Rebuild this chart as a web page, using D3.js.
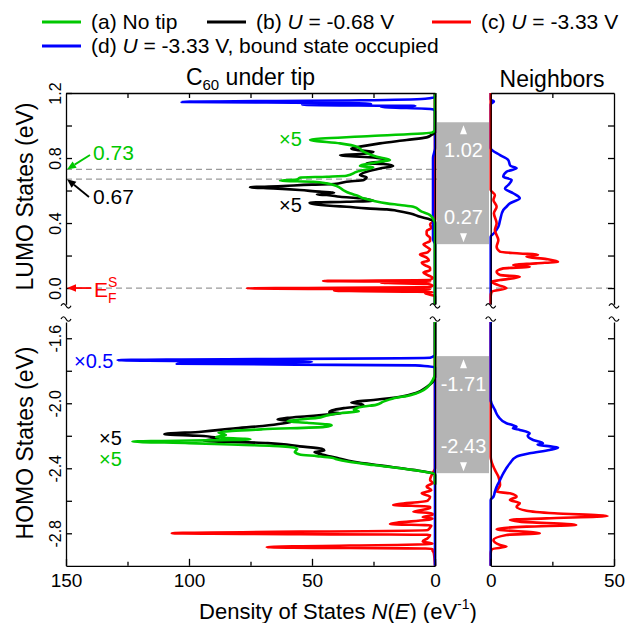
<!DOCTYPE html>
<html>
<head>
<meta charset="utf-8">
<script src="https://cdn.jsdelivr.net/npm/d3@7"></script>
<style>
body { margin: 0; background: #fff; }
svg { display: block; font-family: "Liberation Sans", Arial, sans-serif; }
</style>
</head>
<body>
<svg width="627" height="623"></svg>
<script>
// ---- data: [energy (eV), DOS (1/eV)] ----
// LUMO, C60 under tip
const lumoNoTip = [[-0.1,0],[0.40,0],[0.418,0.5],[0.449,2],[0.47,5.4],[0.50,8.8],[0.511,14.2],[0.521,19.6],[0.537,25.1],[0.552,29.1],[0.565,31],[0.583,34.6],[0.603,37.3],[0.628,40],[0.644,44],[0.654,49.5],[0.661,63],[0.668,56],[0.679,54.9],[0.685,44],[0.691,36],[0.716,31.8],[0.743,25.1],[0.751,30.5],[0.777,22.4],[0.788,18.3],[0.808,23.7],[0.839,29.1],[0.87,31.8],[0.89,38.6],[0.912,50.8],[0.935,26],[0.958,1],[0.975,0],[1.2,0]];
const lumoU068 = [[-0.1,0],[0.408,0],[0.422,2],[0.438,6],[0.459,10],[0.476,15.6],[0.484,19.6],[0.49,27.8],[0.50,35.9],[0.505,41.3],[0.517,49.5],[0.525,51],[0.531,36],[0.537,25],[0.552,30.5],[0.562,38.6],[0.572,44],[0.576,48],[0.587,41],[0.593,47],[0.603,55],[0.613,65.7],[0.62,75.2],[0.628,61.7],[0.636,50],[0.64,41],[0.654,36],[0.665,29],[0.681,27.8],[0.695,30.5],[0.716,27.8],[0.736,22.4],[0.751,17],[0.763,21],[0.767,27.8],[0.777,22.4],[0.788,19.6],[0.804,25],[0.812,36],[0.818,38.6],[0.824,30.5],[0.839,25],[0.849,31.8],[0.859,34],[0.87,30.5],[0.89,22.4],[0.911,11.5],[0.927,3.4],[0.942,1.4],[0.955,0],[1.2,0]];
const lumoU333 = [[-0.1,0],[-0.05,0],[-0.032,4],[-0.025,1],[-0.016,41],[-0.008,2],[-0.002,76.5],[0.006,2],[0.015,1],[0.025,3],[0.033,22],[0.038,2],[0.043,45.5],[0.05,2],[0.064,1],[0.08,3],[0.095,4.7],[0.11,2],[0.125,2],[0.14,4],[0.156,5.4],[0.17,2.5],[0.187,3.4],[0.207,6.1],[0.22,3],[0.238,2],[0.25,3],[0.269,4.7],[0.29,2],[0.31,2],[0.33,3.4],[0.351,3.4],[0.37,1.5],[0.392,2],[0.42,0],[1.2,0]];
const lumoBound = [[-0.1,0],[0.27,0],[0.30,0.8],[0.80,0.8],[0.86,0],[1.09,0],[1.10,1],[1.115,22],[1.12,8],[1.127,54],[1.133,26],[1.138,35],[1.145,103],[1.155,30],[1.165,4],[1.175,0],[1.2,0]];
// LUMO, neighbors
const lumoNbU333 = [[-0.1,0],[-0.05,0],[-0.022,0.4],[-0.002,6.4],[0.018,3.1],[0.039,0.4],[0.049,3.8],[0.07,11.8],[0.08,3.8],[0.1,2.4],[0.121,5.1],[0.131,15.8],[0.142,9.1],[0.152,18.5],[0.162,27.3],[0.178,22.6],[0.193,14.5],[0.205,19.2],[0.213,11.8],[0.223,3.8],[0.254,2.4],[0.295,3.1],[0.357,1.7],[0.398,2.4],[0.46,1.3],[0.50,2.4],[0.542,1.1],[0.572,1.7],[0.603,0],[1.2,0]];
const lumoNbBound = [[-0.1,0],[0.316,0],[0.337,1.3],[0.377,3.1],[0.418,3.8],[0.48,5.1],[0.50,6.4],[0.521,7.8],[0.552,11.8],[0.583,9.1],[0.613,5.8],[0.634,7.1],[0.665,8.5],[0.685,5.1],[0.716,6.4],[0.737,10.5],[0.752,8],[0.788,7.1],[0.818,3.8],[0.86,0],[1.13,0],[1.147,1.3],[1.16,0],[1.2,0]];
// HOMO, C60 under tip
const homoNoTip = [[-1.5,0],[-1.82,0],[-1.86,1],[-1.90,3],[-1.93,6],[-1.95,10],[-1.97,17],[-1.99,21],[-2.01,24],[-2.02,29],[-2.04,33],[-2.05,31],[-2.06,38],[-2.075,44],[-2.09,48],[-2.10,55],[-2.11,60],[-2.12,52],[-2.135,42],[-2.145,45],[-2.16,70],[-2.18,88],[-2.195,85],[-2.209,89],[-2.222,75],[-2.236,123],[-2.245,100],[-2.255,80],[-2.265,62],[-2.28,56],[-2.30,57],[-2.315,55],[-2.325,48],[-2.335,42],[-2.345,40],[-2.36,35],[-2.38,25],[-2.40,14],[-2.42,5],[-2.435,0],[-2.5,0]];
const homoU068 = [[-1.5,0],[-1.84,0],[-1.87,1],[-1.90,3.4],[-1.935,7.5],[-1.96,14],[-1.98,25],[-1.99,32],[-1.996,34],[-2.005,30],[-2.015,29],[-2.03,37],[-2.045,42],[-2.055,43],[-2.062,38],[-2.07,44],[-2.08,52],[-2.09,60],[-2.10,64],[-2.11,58],[-2.125,62],[-2.14,70],[-2.155,82],[-2.175,95],[-2.19,110],[-2.20,96],[-2.215,88],[-2.23,94],[-2.245,68],[-2.265,55],[-2.28,46],[-2.29,45],[-2.30,49],[-2.315,46],[-2.335,40],[-2.36,33],[-2.385,21],[-2.41,9],[-2.43,1],[-2.44,0],[-2.5,0]];
const homoU333 = [[-1.5,0],[-2.40,0],[-2.43,1],[-2.472,2],[-2.49,1],[-2.513,3.4],[-2.535,1.5],[-2.554,5.4],[-2.575,2],[-2.60,3],[-2.626,17],[-2.636,2],[-2.646,2],[-2.667,8.8],[-2.677,1],[-2.687,1],[-2.70,5],[-2.71,1],[-2.743,18.3],[-2.752,1.5],[-2.765,2],[-2.78,3],[-2.80,107],[-2.81,2],[-2.83,3],[-2.85,5],[-2.865,1],[-2.886,68.4],[-2.895,1],[-2.906,1],[-2.92,0.5],[-3.0,0]];
const homoBound = [[-1.5,0],[-1.70,0],[-1.72,2],[-1.735,129],[-1.745,50],[-1.757,105],[-1.767,8],[-1.78,0],[-3.0,0]];
// HOMO, neighbors
const homoNbU333 = [[-1.5,0],[-2.33,0],[-2.41,1.7],[-2.451,3.1],[-2.503,3.8],[-2.544,2.4],[-2.554,7.8],[-2.575,10.5],[-2.595,7.8],[-2.615,11.8],[-2.636,10.5],[-2.661,14.5],[-2.677,25.8],[-2.694,47.4],[-2.708,22.6],[-2.718,7.8],[-2.728,11.8],[-2.749,34.7],[-2.759,14.5],[-2.775,2.4],[-2.80,19.9],[-2.81,6.4],[-2.841,1.1],[-2.872,3.8],[-2.882,6.4],[-2.898,0.4],[-2.923,0],[-3.0,0]];
const homoNbBound = [[-1.5,0],[-1.98,0],[-2.041,1.7],[-2.082,3.1],[-2.123,6.4],[-2.135,9],[-2.144,10.5],[-2.154,9],[-2.164,11.8],[-2.185,15.8],[-2.2,15],[-2.226,17.2],[-2.246,21.2],[-2.255,19],[-2.267,25.2],[-2.273,27.3],[-2.287,23.9],[-2.308,15.8],[-2.328,10.5],[-2.369,7.8],[-2.431,5.1],[-2.472,3.8],[-2.513,2.4],[-2.544,1.7],[-2.575,1.1],[-2.595,0],[-3.0,0]];

// gaps, marked levels, ticks
const lumoGap = [0.27, 1.02];
const homoGap = [-2.43, -1.71];
const lumoOnsets = [0.73, 0.67];
const fermiLevel = 0.0;
const lumoTicks = [0, 0.2, 0.4, 0.6, 0.8, 1.0, 1.2];
const lumoTickLabels = [0, 0.4, 0.8, 1.2];
const homoTicks = [-2.8, -2.6, -2.4, -2.2, -2.0, -1.8, -1.6];
const homoTickLabels = [-2.8, -2.4, -2.0, -1.6];
const leftXTicks = [0, 25, 50, 75, 100, 125, 150];
const leftXLabels = [0, 50, 100, 150];
const rightXTicks = [0, 25, 50];
const rightXLabels = [0, 50];

const colA = "#00c800", colB = "#000000", colC = "#ff0000", colD = "#0000ff";

const svg = d3.select("svg");

const xL = d3.scaleLinear().domain([0, 150]).range([435, 66]);
const xR = d3.scaleLinear().domain([0, 50]).range([490.7, 614]);
const yT = d3.scaleLinear().domain([-0.1, 1.2]).range([304.3, 93]);
const yB = d3.scaleLinear().domain([-3.0, -1.5]).range([565.8, 322]);

// clip areas
const defs = svg.append("defs");
function clip(id, x0, x1, y0, y1) {
  defs.append("clipPath").attr("id", id).append("rect")
    .attr("x", x0).attr("y", y0).attr("width", x1 - x0).attr("height", y1 - y0);
}
clip("cLT", 66, 437, 92, 305);
clip("cRT", 489, 614, 92, 305);
clip("cLB", 66, 437, 321, 566);
clip("cRB", 489, 614, 321, 566);

// gray gap boxes
function gapBox(gap, y) {
  svg.append("rect")
    .attr("x", 437).attr("width", 52)
    .attr("y", y(gap[1])).attr("height", y(gap[0]) - y(gap[1]))
    .attr("fill", "#b4b4b4");
}
gapBox(lumoGap, yT);
gapBox(homoGap, yB);

// dashed levels
const dash = svg.append("g").attr("stroke", "#9a9a9a").attr("stroke-width", 1.2)
  .attr("stroke-dasharray", "6,4");
lumoOnsets.forEach(v => {
  dash.append("line").attr("x1", 66).attr("x2", 437).attr("y1", yT(v)).attr("y2", yT(v));
});
dash.append("line").attr("x1", 66).attr("x2", 614)
  .attr("y1", yT(fermiLevel)).attr("y2", yT(fermiLevel));

// curves
function curve(clipId, data, x, y, color) {
  const pts = data.slice().sort((a, b) => b[0] - a[0]);
  const line = d3.line()
    .x(d => x(d[1]))
    .y(d => y(d[0]))
    .curve(d3.curveMonotoneY);
  svg.append("path")
    .attr("clip-path", "url(#" + clipId + ")")
    .attr("d", line(pts))
    .attr("fill", "none")
    .attr("stroke", color)
    .attr("stroke-width", 2.6)
    .attr("stroke-linejoin", "round");
}
curve("cLT", lumoU333, xL, yT, colC);
curve("cLT", lumoBound, xL, yT, colD);
curve("cLT", lumoU068, xL, yT, colB);
curve("cLT", lumoNoTip, xL, yT, colA);
curve("cRT", lumoNbBound, xR, yT, colD);
curve("cRT", lumoNbU333, xR, yT, colC);
curve("cLB", homoU333, xL, yB, colC);
curve("cLB", homoBound, xL, yB, colD);
curve("cLB", homoU068, xL, yB, colB);
curve("cLB", homoNoTip, xL, yB, colA);
curve("cRB", homoNbU333, xR, yB, colC);
curve("cRB", homoNbBound, xR, yB, colD);

// axes
function styleAxis(g) {
  g.selectAll("path, line").attr("stroke", "#000").attr("stroke-width", 1.3);
  g.selectAll("text").attr("fill", "#000").attr("font-family", "'Liberation Sans', Arial, sans-serif");
}
function yAxisLeft(y, ticks, labels, x) {
  const g = svg.append("g").attr("transform", `translate(${x},0)`)
    .call(d3.axisLeft(y).tickValues(ticks).tickSize(-6).tickSizeOuter(0)
      .tickFormat(d => labels.some(l => Math.abs(l - d) < 1e-9) ? d.toFixed(1) : ""));
  g.selectAll("text")
    .attr("transform", "rotate(-90)")
    .attr("x", 0).attr("y", -5).attr("dy", 0)
    .attr("text-anchor", "middle")
    .attr("font-size", 16);
  styleAxis(g);
}
function yAxisPlain(y, x, ticks, dir) {
  const ax = dir === "right" ? d3.axisRight(y) : d3.axisLeft(y);
  const g = svg.append("g").attr("transform", `translate(${x},0)`)
    .call(ax.tickValues(ticks).tickSize(-6).tickSizeOuter(0).tickFormat(""));
  styleAxis(g);
}
yAxisLeft(yT, lumoTicks, lumoTickLabels, 66);
yAxisLeft(yB, homoTicks, homoTickLabels, 66);
yAxisPlain(yT, 435, [], "right");
yAxisPlain(yB, 435, [], "right");
yAxisPlain(yT, 490.7, [], "left");
yAxisPlain(yB, 490.7, [], "left");
yAxisPlain(yT, 614, lumoTicks.filter(d => d < 1.2), "right");
yAxisPlain(yB, 614, homoTicks, "right");

// top frame
[[xL, leftXTicks.filter(d => d > 0 && d < 150)], [xR, [25]]].forEach(([x, t]) => {
  const g = svg.append("g").attr("transform", "translate(0,93)")
    .call(d3.axisTop(x).tickValues(t).tickSize(-5).tickSizeOuter(0).tickFormat(""));
  styleAxis(g);
});

// bottom axes
function xAxisBottom(x, ticks, labels) {
  const minor = svg.append("g").attr("transform", "translate(0,565.8)")
    .call(d3.axisBottom(x).tickValues(ticks.filter(d => !labels.includes(d)))
      .tickSize(-4).tickSizeOuter(0).tickFormat(""));
  styleAxis(minor);
  const major = svg.append("g").attr("transform", "translate(0,565.8)")
    .call(d3.axisBottom(x).tickValues(labels).tickSize(-7).tickSizeOuter(0)
      .tickPadding(8).tickFormat(d => String(d)));
  major.selectAll("text").attr("font-size", 19);
  major.select(".domain").remove();
  styleAxis(major);
}
xAxisBottom(xL, leftXTicks, leftXLabels);
xAxisBottom(xR, rightXTicks, rightXLabels);

// axis break marks
const breaks = svg.append("g").attr("fill", "none").attr("stroke", "#000").attr("stroke-width", 1.2);
[66, 435, 490.7, 614].forEach(x => {
  [yT.range()[0] + 1.5, yB.range()[1] - 3].forEach(y => {
    breaks.append("path")
      .attr("d", `M${x - 5},${y} c1.5,-3 3.5,-3 5,0 s3.5,3 5,0`);
  });
});

// gap labels
const gapText = svg.append("g").attr("fill", "#fff").attr("font-size", 20).attr("text-anchor", "middle");
function gapLabels(gap, y) {
  gapText.append("text").attr("x", 463.5).attr("y", y(gap[1]) + 35).text(gap[1].toFixed(2));
  gapText.append("text").attr("x", 463.5).attr("y", y(gap[0]) - 20).text(gap[0].toFixed(2));
  const top = y(gap[1]), bot = y(gap[0]);
  gapText.append("path").attr("d", `M463.5,${top + 3} l3.5,9 h-7 z`);
  gapText.append("path").attr("d", `M463.5,${bot - 2} l3.5,-9 h-7 z`);
}
gapLabels(lumoGap, yT);
gapLabels(homoGap, yB);

// arrows and level labels
function arrow(x1, y1, x2, y2, color) {
  const a = Math.atan2(y2 - y1, x2 - x1), L = 9, w = 3.8;
  const bx = x2 - L * Math.cos(a), by = y2 - L * Math.sin(a);
  svg.append("line").attr("x1", x1).attr("y1", y1).attr("x2", bx).attr("y2", by)
    .attr("stroke", color).attr("stroke-width", 1.8);
  svg.append("path")
    .attr("d", `M${x2},${y2} L${bx + w * Math.sin(a)},${by - w * Math.cos(a)} L${bx - w * Math.sin(a)},${by + w * Math.cos(a)} Z`)
    .attr("fill", color);
}
arrow(90, 155, 67, yT(lumoOnsets[0]), colA);
arrow(89, 197, 67, yT(lumoOnsets[1]), colB);
arrow(91, yT(fermiLevel), 67, yT(fermiLevel), colC);

function label(x, y, txt, color, size) {
  return svg.append("text").attr("x", x).attr("y", y).attr("fill", color)
    .attr("font-size", size || 20).text(txt);
}
label(93, 160, lumoOnsets[0].toFixed(2), colA, 21);
label(93, 204, lumoOnsets[1].toFixed(2), colB, 21);
const ef = svg.append("text").attr("x", 94).attr("y", 297).attr("fill", colC).attr("font-size", 21);
ef.append("tspan").text("E");
ef.append("tspan").attr("font-size", 14).attr("dy", -10).text("S");
ef.append("tspan").attr("font-size", 14).attr("x", 108).attr("dy", 16).text("F");

label(279, 146, "×5", colA, 20);
label(279, 212, "×5", colB, 20);
label(74, 368, "×0.5", colD, 20);
label(99, 445, "×5", colB, 20);
label(99, 466, "×5", colA, 20);

// titles
const t1 = svg.append("text").attr("x", 250.5).attr("y", 85).attr("font-size", 23)
  .attr("text-anchor", "middle");
t1.append("tspan").text("C");
t1.append("tspan").attr("font-size", 15).attr("dy", 5).text("60");
t1.append("tspan").attr("dy", -5).text(" under tip");
svg.append("text").attr("x", 552).attr("y", 87).attr("font-size", 23)
  .attr("text-anchor", "middle").text("Neighbors");

svg.append("text").attr("transform", "translate(33,196.5) rotate(-90)")
  .attr("font-size", 23).attr("text-anchor", "middle").text("LUMO States (eV)");
svg.append("text").attr("transform", "translate(33,443) rotate(-90)")
  .attr("font-size", 23).attr("text-anchor", "middle").text("HOMO States (eV)");

const xt = svg.append("text").attr("x", 338).attr("y", 619).attr("font-size", 22)
  .attr("text-anchor", "middle");
xt.append("tspan").text("Density of States ");
xt.append("tspan").attr("font-style", "italic").text("N");
xt.append("tspan").text("(");
xt.append("tspan").attr("font-style", "italic").text("E");
xt.append("tspan").text(") (eV");
xt.append("tspan").attr("font-size", 14).attr("dy", -10).text("-1");
xt.append("tspan").attr("dy", 10).text(")");

// legend
const legend = [
  {color: colA, x: 42, y: 22, parts: [["(a) No tip", false]]},
  {color: colB, x: 207, y: 22, parts: [["(b) ", false], ["U", true], [" = -0.68 V", false]]},
  {color: colC, x: 432, y: 22, parts: [["(c) ", false], ["U", true], [" = -3.33 V", false]]},
  {color: colD, x: 42, y: 46, parts: [["(d) ", false], ["U", true], [" = -3.33 V, bound state occupied", false]]}
];
legend.forEach(d => {
  svg.append("line").attr("x1", d.x).attr("x2", d.x + 39).attr("y1", d.y).attr("y2", d.y)
    .attr("stroke", d.color).attr("stroke-width", 3);
  const t = svg.append("text").attr("x", d.x + 49).attr("y", d.y + 7).attr("font-size", 21);
  d.parts.forEach(p => t.append("tspan").attr("font-style", p[1] ? "italic" : "normal").text(p[0]));
});
</script>
</body>
</html>
